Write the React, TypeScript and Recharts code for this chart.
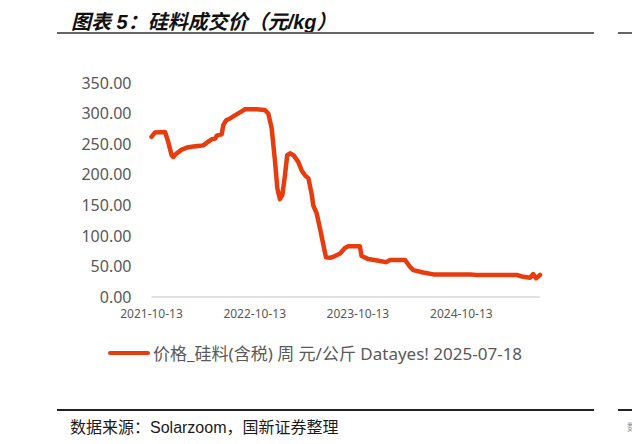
import React from 'react';
import { LineChart, Line, XAxis, YAxis, Legend } from 'recharts';

// weekly silicon price readings (yuan/kg)
const dates = [
  '2021-10-13', '2021-10-25', '2021-11-30', '2021-12-11', '2021-12-23', '2021-12-29',
  '2022-01-10', '2022-01-28', '2022-02-20', '2022-03-10', '2022-03-28', '2022-04-14',
  '2022-05-02', '2022-05-14', '2022-05-26', '2022-06-01', '2022-06-18', '2022-06-24',
  '2022-07-04', '2022-07-18', '2022-08-04', '2022-08-22', '2022-09-09', '2022-10-20',
  '2022-11-18', '2022-11-30', '2022-12-12', '2022-12-24', '2023-01-01', '2023-01-10',
  '2023-01-19', '2023-01-28', '2023-02-05', '2023-02-15', '2023-02-27', '2023-03-16',
  '2023-03-28', '2023-04-09', '2023-04-21', '2023-05-03', '2023-05-08', '2023-05-20',
  '2023-06-01', '2023-06-13', '2023-06-22', '2023-07-06', '2023-07-24', '2023-08-11',
  '2023-08-28', '2023-09-09', '2023-10-20', '2023-10-26', '2023-11-19', '2023-12-30',
  '2024-01-20', '2024-02-04', '2024-03-28', '2024-04-14', '2024-04-26', '2024-05-31',
  '2024-07-06', '2024-11-13', '2024-12-06', '2025-04-27', '2025-05-20', '2025-06-13',
  '2025-06-24', '2025-07-04', '2025-07-18',
];

const prices = [
  262, 269, 270, 254, 232, 229,
  235, 241, 245, 246, 247, 248,
  254, 258, 259, 264, 266, 281,
  289, 292, 297, 302, 307, 307,
  306, 300, 276, 221, 178, 160,
  167, 199, 232, 235, 232, 221,
  207, 199, 194, 167, 150, 137,
  112, 85, 65, 64, 67, 71,
  80, 83, 83, 67, 62, 59,
  57, 60.5, 60.5, 49.5, 44, 40,
  37, 37, 36, 36, 33, 31.5,
  37.5, 30.5, 36,
];

const xTicks = ['2021-10-13', '2022-10-13', '2023-10-13', '2024-10-13'];
const yTicks = [0, 50, 100, 150, 200, 250, 300, 350];
const seriesName = '价格_硅料(含税) 周 元/公斤 Datayes! 2025-07-18';

const toTs = (d: string) => Date.parse(d + 'T00:00:00Z');
const pad = (n: number) => String(n).padStart(2, '0');
const fmtDate = (t: number) => {
  const d = new Date(t);
  return `${d.getUTCFullYear()}-${pad(d.getUTCMonth() + 1)}-${pad(d.getUTCDate())}`;
};

const data = dates.map((d, i) => ({ t: toTs(d), price: prices[i] }));

const LINE_COLOR = '#e83c0e';
const TEXT_GRAY = '#595959';

function LegendContent(props: any) {
  const item = (props.payload || [])[0];
  if (!item) return null;
  return (
    <div style={{ display: 'flex', alignItems: 'center' }}>
      <div style={{ width: 42, height: 4, borderRadius: 2, background: item.color, marginRight: 3 }} />
      <span style={{ color: TEXT_GRAY, fontSize: 17, whiteSpace: 'nowrap', fontFamily: '"Noto Sans", "Noto Sans CJK SC", sans-serif' }}>
        {item.value}
      </span>
    </div>
  );
}

export default function App() {
  return (
    <div
      style={{
        position: 'absolute',
        left: 0,
        top: 0,
        width: 632,
        height: 444,
        background: '#fff',
        overflow: 'hidden',
        fontFamily: '"Noto Sans", "Noto Sans CJK SC", sans-serif',
      }}
    >
      {/* title */}
      <div
        style={{
          position: 'absolute',
          left: 71,
          top: 6,
          fontSize: 20,
          fontWeight: 700,
          fontStyle: 'italic',
          color: '#111',
          whiteSpace: 'nowrap',
          fontFamily: '"Liberation Sans", "Noto Sans CJK SC", sans-serif',
        }}
      >
        图表 5：硅料成交价（元/kg）
      </div>
      <div style={{ position: 'absolute', left: 57, top: 32, width: 537, height: 2, background: '#666' }} />
      <div style={{ position: 'absolute', left: 618, top: 32, width: 14, height: 2, background: '#666' }} />

      <LineChart
        width={632}
        height={444}
        data={data}
        margin={{ top: 83, right: 92, bottom: 0, left: 0 }}
      >
        <XAxis
          dataKey="t"
          type="number"
          domain={[toTs('2021-10-13'), toTs('2025-07-18')]}
          ticks={xTicks.map(toTs)}
          interval={0}
          tickFormatter={fmtDate}
          tickLine={false}
          tickSize={0}
          tickMargin={12}
          axisLine={{ stroke: '#d9d9d9', strokeWidth: 1.5 }}
          tick={{ fill: TEXT_GRAY, fontSize: 12 }}
          height={147}
        />
        <YAxis
          domain={[0, 350]}
          ticks={yTicks}
          interval={0}
          width={151.5}
          tickFormatter={(v: number) => v.toFixed(2)}
          axisLine={false}
          tickLine={false}
          tickSize={0}
          tickMargin={20}
          tick={{ fill: TEXT_GRAY, fontSize: 16 }}
        />
        <Legend
          content={LegendContent}
          layout="horizontal"
          verticalAlign="middle"
          align="center"
          wrapperStyle={{ position: 'absolute', left: 108, top: 340, width: 'auto', bottom: 'auto' }}
        />
        <Line
          type="linear"
          dataKey="price"
          name={seriesName}
          stroke={LINE_COLOR}
          strokeWidth={4.5}
          strokeLinejoin="round"
          strokeLinecap="round"
          dot={false}
          isAnimationActive={false}
        />
      </LineChart>

      {/* source footer */}
      <div style={{ position: 'absolute', left: 57, top: 409, width: 537, height: 1.5, background: '#222' }} />
      <div style={{ position: 'absolute', left: 618, top: 409, width: 14, height: 1.5, background: '#222' }} />
      <div
        style={{
          position: 'absolute',
          left: 70,
          top: 414,
          fontSize: 16,
          color: '#1a1a1a',
          whiteSpace: 'nowrap',
          fontFamily: '"Liberation Sans", "Noto Sans CJK SC", sans-serif',
        }}
      >
        数据来源：Solarzoom，国新证券整理
      </div>
      <div style={{ position: 'absolute', left: 627, top: 419, fontSize: 10, color: '#999', fontFamily: '"Noto Sans CJK SC", sans-serif' }}>
        数
      </div>
    </div>
  );
}
